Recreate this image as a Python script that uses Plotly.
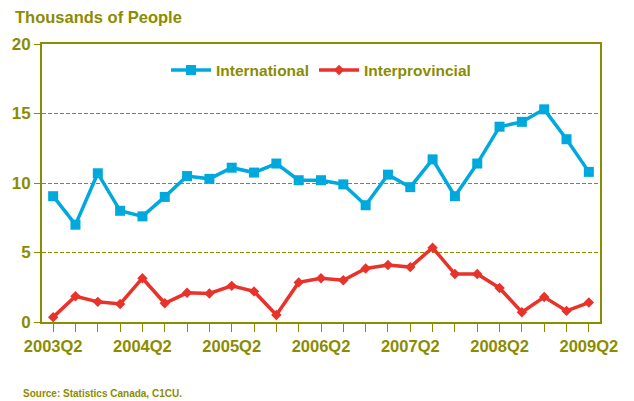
import plotly.graph_objects as go

quarters = []
for y in range(2003, 2010):
    for q in (1, 2, 3, 4):
        quarters.append(f"{y}Q{q}")
categories = quarters[1:26]  # 2003Q2 .. 2009Q2

international = [9.05, 7.0, 10.7, 8.0, 7.6, 9.0, 10.5, 10.3, 11.1, 10.75, 11.4, 10.2,
                 10.2, 9.9, 8.4, 10.6, 9.7, 11.7, 9.05, 11.4, 14.05, 14.4, 15.3, 13.15, 10.8]
interprovincial = [0.35, 1.85, 1.45, 1.3, 3.15, 1.35, 2.1, 2.05, 2.6, 2.2, 0.5, 2.85,
                   3.15, 3.0, 3.85, 4.1, 3.95, 5.35, 3.45, 3.45, 2.45, 0.7, 1.8, 0.8, 1.4]
tick_labels = ["2003Q2", "2004Q2", "2005Q2", "2006Q2", "2007Q2", "2008Q2", "2009Q2"]

olive = "#8c8c00"
blue = "#00a9dd"
red = "#e8322a"
font = "Liberation Sans, Arial, sans-serif"

fig = go.Figure()
fig.add_trace(go.Scatter(x=categories, y=international, name="International",
                         mode="lines+markers",
                         line=dict(color=blue, width=3.5),
                         marker=dict(symbol="square", size=10, color=blue)))
fig.add_trace(go.Scatter(x=categories, y=interprovincial, name="Interprovincial",
                         mode="lines+markers",
                         line=dict(color=red, width=3.5),
                         marker=dict(symbol="diamond", size=8, color=red)))

W, H = 634, 401
L, R, T, B = 42, 34, 44, 79
PW, PH = W - L - R, H - T - B

fig.update_layout(
    width=W, height=H,
    margin=dict(l=L, r=R, t=T, b=B, autoexpand=False),
    paper_bgcolor="white", plot_bgcolor="white",
    font=dict(family=font, color=olive),
    showlegend=True,
    legend=dict(orientation="h", x=0.5, xanchor="center", y=0.905, yanchor="middle",
                font=dict(family=font, size=15.5, color=olive, weight="bold"),
                bgcolor="rgba(0,0,0,0)", itemwidth=40, tracegroupgap=0),
    xaxis=dict(
        type="category", categoryorder="array", categoryarray=categories,
        range=[-0.5, 24.5], automargin=False,
        tickmode="array", tickvals=categories,
        ticktext=[c if c in tick_labels else "" for c in categories],
        ticks="outside", ticklen=8, tickcolor=olive, tickwidth=1,
        showline=True, linecolor=olive, linewidth=2, mirror=True,
        showgrid=False, zeroline=False,
        tickfont=dict(family=font, size=16.5, color=olive, weight="bold"),
    ),
    yaxis=dict(
        range=[0, 20], tickvals=[0, 5, 10, 15, 20], automargin=False,
        ticks="outside", ticklen=6, tickcolor=olive, tickwidth=1,
        showline=True, linecolor=olive, linewidth=2, mirror=True,
        showgrid=True, gridcolor=olive, griddash="4px,2px", gridwidth=1,
        zeroline=False,
        tickfont=dict(family=font, size=17, color=olive, weight="bold"),
    ),
    annotations=[
        dict(text="<b>Thousands of People</b>", xref="paper", yref="paper",
             x=-(L - 13) / PW, y=1 + 27 / PH, xanchor="left", yanchor="middle",
             showarrow=False, font=dict(family=font, size=16.5, color=olive)),
        dict(text="<b>Source: Statistics Canada, C1CU.</b>", xref="paper", yref="paper",
             x=-(L - 21) / PW, y=-71 / PH, xanchor="left", yanchor="middle",
             showarrow=False, font=dict(family=font, size=10, color=olive)),
    ],
)

fig.write_html(
    "out.html",
    config={"displayModeBar": False},
    post_script="document.documentElement.style.margin='0';document.body.style.margin='0';"
                "document.body.style.padding='0';document.documentElement.style.overflow='hidden';",
)
